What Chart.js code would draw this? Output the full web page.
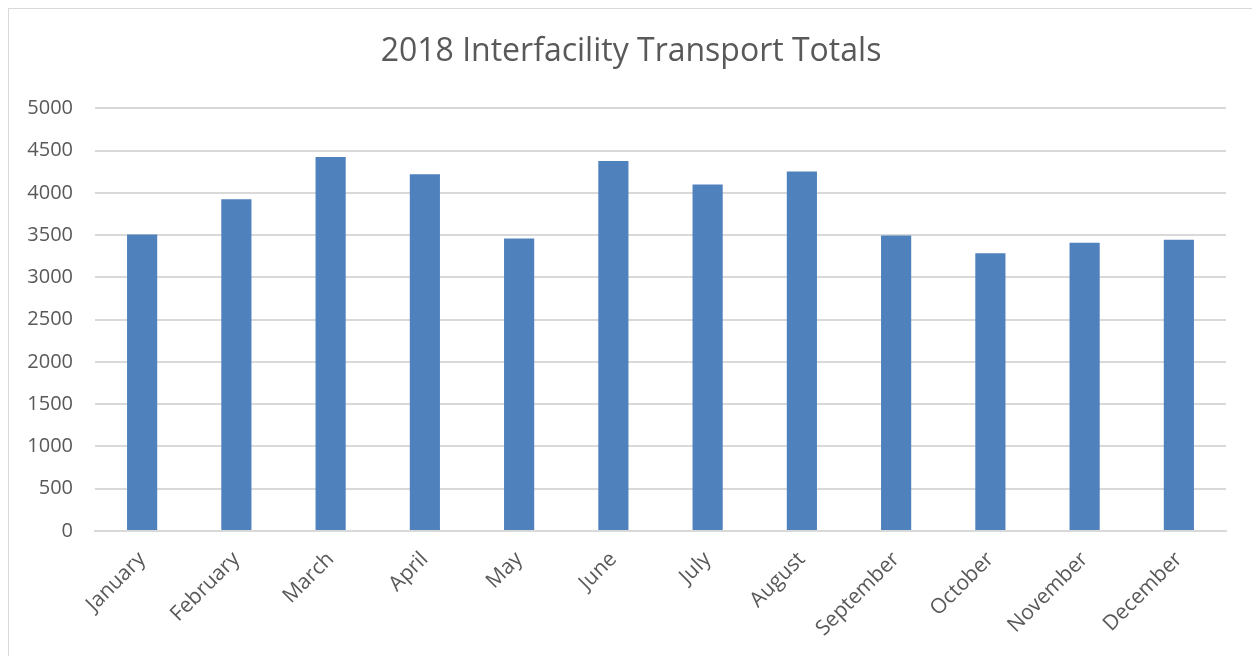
<!DOCTYPE html>
<html>
<head>
<meta charset="utf-8">
<script src="https://cdn.jsdelivr.net/npm/chart.js@4"></script>
<style>
  html, body { margin: 0; padding: 0; background: #fff; }
  #frame {
    position: absolute; left: 8px; top: 8px;
    width: 1260px; height: 660px;
    border: 1px solid #d9d9d9;
  }
  #wrap { position: absolute; left: 0; top: 0; width: 1252px; height: 656px; }
</style>
</head>
<body>
<div id="frame"></div>
<div id="wrap"><canvas id="chart"></canvas></div>
<script>
'use strict';

// chart data
const months = ['January', 'February', 'March', 'April', 'May', 'June',
  'July', 'August', 'September', 'October', 'November', 'December'];
const transports = [3508, 3926, 4425, 4221, 3461, 4378, 4099, 4253, 3496, 3286, 3410, 3446];
const yTicks = [0, 500, 1000, 1500, 2000, 2500, 3000, 3500, 4000, 4500, 5000];

const textColor = '#595959';
const gridColor = '#d9d9d9';
const fontFamily = '"Open Sans", "Liberation Sans", sans-serif';

const ctx = document.getElementById('chart').getContext('2d');

let myChart = new Chart(ctx, {
  type: 'bar',
  data: {
    labels: months,
    datasets: [{
      label: 'Transports',
      data: transports,
      backgroundColor: '#4f81bd',
      borderWidth: 0,
      categoryPercentage: 1,
      barPercentage: 0.32
    }]
  },
  options: {
    responsive: true,
    maintainAspectRatio: false,
    animation: false,
    layout: {
      padding: { top: 6, right: 0, bottom: 0, left: 10 }
    },
    plugins: {
      legend: { display: false },
      tooltip: { enabled: false },
      title: {
        display: true,
        text: '2018 Interfacility Transport Totals',
        color: textColor,
        font: { family: fontFamily, size: 32, weight: 'normal' },
        padding: { top: 27, bottom: 37 }
      }
    },
    scales: {
      x: {
        grid: { display: false, drawTicks: false },
        border: { display: true, color: gridColor, width: 2 },
        ticks: {
          color: textColor,
          font: { family: fontFamily, size: 21 },
          minRotation: 45,
          maxRotation: 45,
          padding: 16
        },
        afterFit: function (scale) { scale.height = 125; }
      },
      y: {
        min: 0,
        max: 5000,
        grid: { color: gridColor, lineWidth: 2, drawTicks: false },
        border: { display: false },
        afterBuildTicks: function (scale) {
          scale.ticks = yTicks.map(v => ({ value: v }));
        },
        ticks: {
          color: textColor,
          font: { family: fontFamily, size: 20 },
          padding: 22,
          callback: function (value) { return String(value); }
        },
        afterFit: function (scale) { scale.width = 85; }
      },
      // empty right-hand spacer so the plot ends where the reference does
      spacer: {
        type: 'linear',
        position: 'right',
        grid: { display: false, drawTicks: false },
        border: { display: false },
        ticks: { display: false },
        afterFit: function (scale) { scale.width = 26; }
      }
    }
  }
});
</script>
</body>
</html>
